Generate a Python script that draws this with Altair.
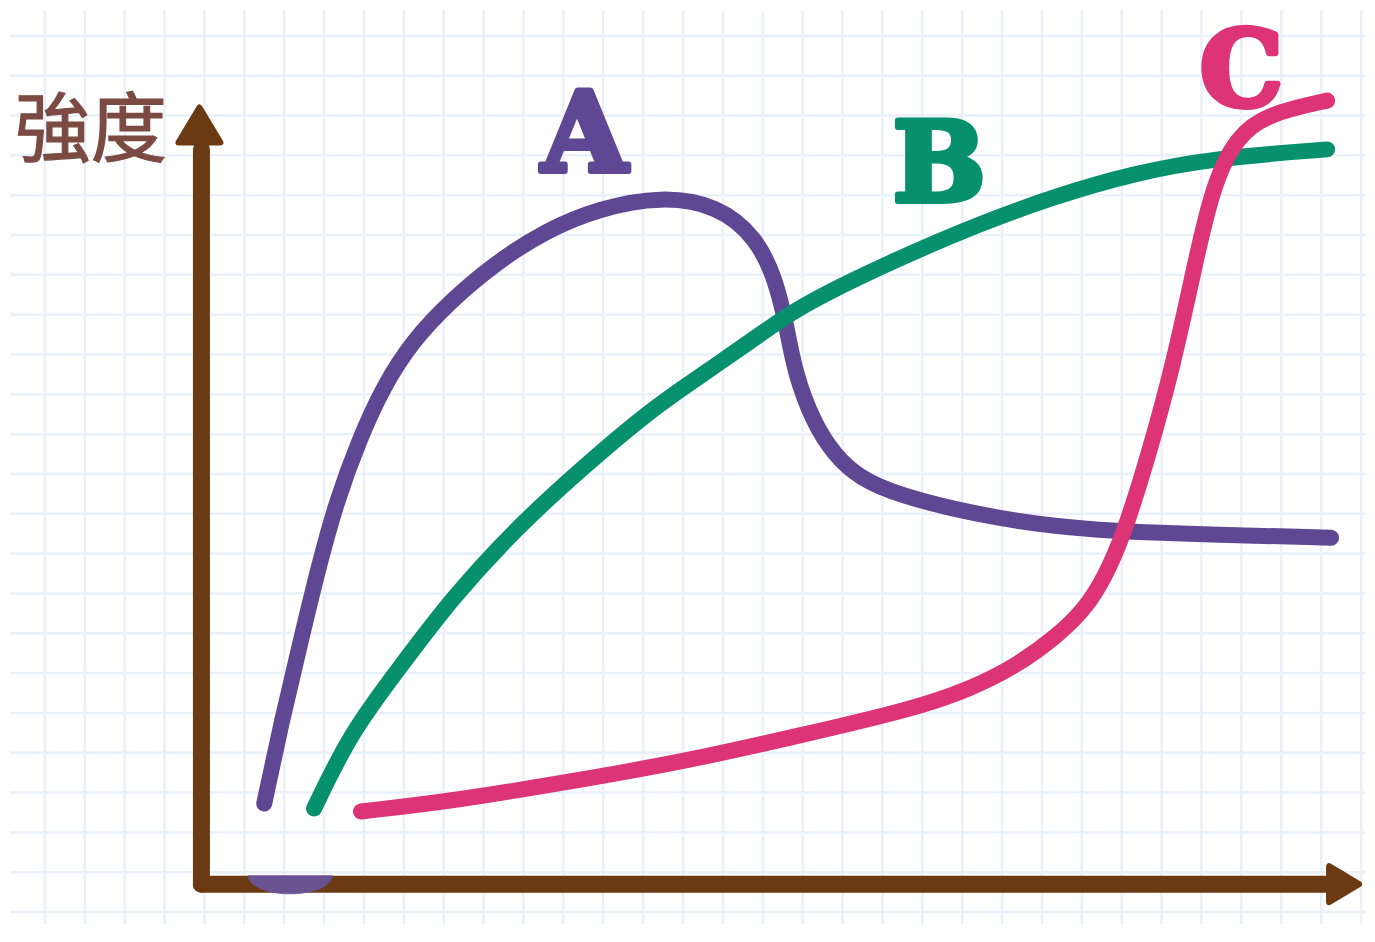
import altair as alt
import pandas as pd

# ---------------- data (grid units: 1 unit = one grid square) ----------------
a_x = [1.575, 2.025, 2.5, 2.95, 3.4, 3.95, 4.575, 5.3, 6.25, 7.375, 8.65, 10.0, 11.525,
       12.95, 13.925, 14.4, 14.675, 14.875, 15.35, 15.875, 16.5, 17.45, 19.425, 21.4,
       23.375, 28.325]
a_y = [1.975, 4.1, 6.1, 7.975, 9.6, 11.1, 12.475, 13.6, 14.6, 15.55, 16.375, 16.925,
       17.225, 17.0, 16.175, 15.125, 13.95, 12.8, 11.525, 10.725, 10.15, 9.725, 9.225,
       8.925, 8.775, 8.65]

b_x = [2.825, 3.75, 5.0, 6.25, 7.925, 9.575, 11.25, 12.5, 13.5, 14.75, 15.475, 17.45,
       19.425, 21.4, 23.375, 25.35, 28.225]
b_y = [1.85, 3.775, 5.425, 7.1, 8.925, 10.425, 11.85, 12.7, 13.4, 14.275, 14.7,
       15.65, 16.5, 17.225, 17.8, 18.175, 18.4]

c_x = [4.0, 6.375, 9.25, 12.1, 14.975, 17.85, 19.275, 20.425, 21.45, 22.15, 22.65,
       23.125, 23.75, 24.375, 24.875, 25.35, 25.95, 26.75, 28.225]
c_y = [1.775, 2.05, 2.525, 3.025, 3.675, 4.35, 4.85, 5.425, 6.175, 6.85, 7.65,
       8.725, 10.725, 13.025, 15.35, 17.475, 18.725, 19.3, 19.625]

series_names = ["A", "B", "C"]
series_colors = ["#5f4794", "#07906d", "#dc3474"]

label_x = [9.6, 18.5, 26.075]
label_y = [17.85, 17.1, 19.5]

y_title = "強度"

# ---------------- scales ----------------
xs = alt.Scale(domain=[-4.8, 29.175], nice=False, zero=False)
ys = alt.Scale(domain=[-1.05, 21.9], nice=False, zero=False)

rows = []
for name, xv, yv in zip(series_names, [a_x, b_x, c_x], [a_y, b_y, c_y]):
    for i, (x, y) in enumerate(zip(xv, yv)):
        rows.append({"series": name, "x": x, "y": y, "i": i})
curves = pd.DataFrame(rows)

labels_df = pd.DataFrame({"series": series_names, "x": label_x, "y": label_y})

grid_x = pd.DataFrame({"gx": [-4.925 + k for k in range(1, 35)]})
grid_y = pd.DataFrame({"gy": [0.25 + n for n in range(-1, 22)]})

BROWN = "#6b3a12"
GRID = "#eaf0f8"

vgrid = alt.Chart(grid_x).mark_rule(color=GRID, strokeWidth=2.5).encode(
    x=alt.X("gx:Q", scale=xs, axis=None))
hgrid = alt.Chart(grid_y).mark_rule(color=GRID, strokeWidth=2.5).encode(
    y=alt.Y("gy:Q", scale=ys, axis=None))

# axes drawn as thick rules
vaxis = alt.Chart(pd.DataFrame({"x": [0.0], "y": [-0.05], "y2": [18.4]})).mark_rule(
    color=BROWN, strokeWidth=17, strokeCap="round").encode(
    x=alt.X("x:Q", scale=xs, axis=None),
    y=alt.Y("y:Q", scale=ys, axis=None), y2="y2:Q")
haxis = alt.Chart(pd.DataFrame({"x": [0.0], "x2": [28.3], "y": [-0.05]})).mark_rule(
    color=BROWN, strokeWidth=17, strokeCap="round").encode(
    x=alt.X("x:Q", scale=xs, axis=None), x2="x2:Q",
    y=alt.Y("y:Q", scale=ys, axis=None))

up_arrow = alt.Chart(pd.DataFrame({"x": [-0.05], "y": [18.925]})).mark_point(
    shape="M0,-1L1,0.667L-1,0.667Z", size=1764, filled=True, fill=BROWN, opacity=1,
    stroke=BROWN, strokeWidth=6, strokeJoin="round").encode(
    x=alt.X("x:Q", scale=xs, axis=None), y=alt.Y("y:Q", scale=ys, axis=None))
right_arrow = alt.Chart(pd.DataFrame({"x": [28.575], "y": [-0.05]})).mark_point(
    shape="M1,0L-0.667,-1L-0.667,1Z", size=1296, filled=True, fill=BROWN, opacity=1,
    stroke=BROWN, strokeWidth=6, strokeJoin="round").encode(
    x=alt.X("x:Q", scale=xs, axis=None), y=alt.Y("y:Q", scale=ys, axis=None))

blob = alt.Chart(pd.DataFrame({"x": [2.225], "y": [0.175]})).mark_point(
    shape="M-1,0A1,0.45 0 0 0 1,0Z", size=7225, filled=True, fill="#6a55a0",
    opacity=0.9, strokeWidth=0).encode(
    x=alt.X("x:Q", scale=xs, axis=None), y=alt.Y("y:Q", scale=ys, axis=None))

color_scale = alt.Scale(domain=series_names, range=series_colors)

lines = alt.Chart(curves).mark_line(
    strokeWidth=16, strokeCap="round", strokeJoin="round",
    interpolate="basis").encode(
    x=alt.X("x:Q", scale=xs, axis=None),
    y=alt.Y("y:Q", scale=ys, axis=None),
    color=alt.Color("series:N", scale=color_scale, legend=None),
    order="i:Q")


def letter_layer(df, size):
    return alt.Chart(df).mark_text(
        font="DejaVu Serif", fontWeight="bold", fontSize=size, align="center",
        baseline="alphabetic", strokeWidth=6, strokeJoin="round").encode(
        x=alt.X("x:Q", scale=xs, axis=None),
        y=alt.Y("y:Q", scale=ys, axis=None),
        text="series:N",
        color=alt.Color("series:N", scale=color_scale, legend=None),
        stroke=alt.Stroke("series:N", scale=color_scale, legend=None))


labels_ab = letter_layer(labels_df[labels_df.series != "C"], 110)
labels_c = letter_layer(labels_df[labels_df.series == "C"], 104)

title = alt.Chart(pd.DataFrame({"x": [-2.775], "y": [18.8], "t": [y_title]})).mark_text(
    font="Noto Sans CJK TC", fontSize=76, color="#7b4a42", align="center",
    baseline="middle", stroke="#7b4a42", strokeWidth=1.2).encode(
    x=alt.X("x:Q", scale=xs, axis=None),
    y=alt.Y("y:Q", scale=ys, axis=None),
    text="t:N")

chart = alt.layer(
    vgrid, hgrid, vaxis, haxis, up_arrow, right_arrow, blob, lines,
    labels_ab, labels_c, title
).properties(
    width=1359, height=918, padding=0,
    autosize=alt.AutoSizeParams(type="fit", contains="padding"),
    background="white",
).configure_view(strokeWidth=0)

chart.save("out.html", embed_options={"renderer": "svg", "actions": False})
